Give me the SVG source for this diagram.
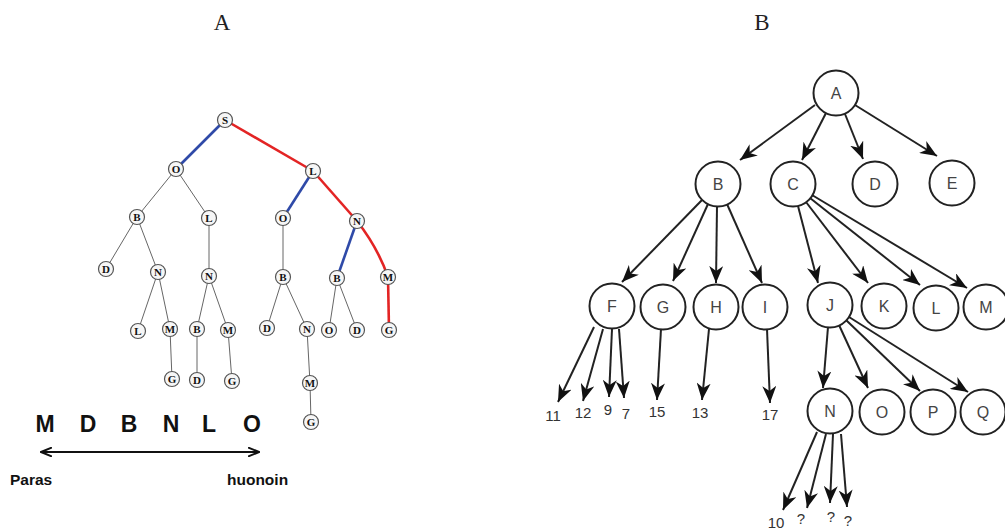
<svg xmlns="http://www.w3.org/2000/svg" width="1005" height="532" viewBox="0 0 1005 532">
<defs>
<style>
.title{font-family:"Liberation Serif",serif;font-size:23px;fill:#222;text-anchor:middle}
.ae{stroke:#666;stroke-width:1;fill:none}
.blue{stroke:#2f4aa8;stroke-width:2.6;fill:none}
.red{stroke:#e32424;stroke-width:2.6;fill:none}
.an circle{fill:#f6f6f6;stroke:#555;stroke-width:1.2}
.an text{font-family:"Liberation Serif",serif;font-weight:bold;font-size:11px;fill:#111;text-anchor:middle}
.big{font-family:"Liberation Sans",sans-serif;font-weight:bold;font-size:23px;fill:#111;text-anchor:middle}
.lbl{font-family:"Liberation Sans",sans-serif;font-weight:bold;font-size:15.5px;fill:#111}
.be{stroke:#222;stroke-width:2;fill:none;marker-end:url(#ah)}
.bn circle{fill:#fff;stroke:#222;stroke-width:2}
.bn text{font-family:"Liberation Sans",sans-serif;font-size:16px;fill:#444;text-anchor:middle}
.num{font-family:"Liberation Sans",sans-serif;font-size:15px;fill:#333;text-anchor:middle}
</style>
<marker id="ah" markerUnits="userSpaceOnUse" markerWidth="18" markerHeight="14" viewBox="0 0 18 14" refX="17" refY="7" orient="auto">
<path d="M0,0 L17,7 L0,14 L5,7 z" fill="#111"/>
</marker>
<marker id="dh" markerUnits="userSpaceOnUse" markerWidth="12" markerHeight="10" viewBox="0 0 12 10" refX="11" refY="5" orient="auto-start-reverse">
<path d="M0,0.5 L11,5 L0,9.5" fill="none" stroke="#111" stroke-width="2"/>
</marker>
</defs>
<rect width="1005" height="532" fill="#fff"/>
<text class="title" x="222" y="30">A</text>
<text class="title" x="762" y="30">B</text>

<g id="edgesA">
<path class="blue" d="M225,120 L176,169"/>
<path class="red" d="M225,120 L313,171"/>
<path class="ae" d="M176,169 L137,217 M176,169 L209,218 M137,217 L106,269 M137,217 L158,272 M209,218 L209,276 M158,272 L138,331 M158,272 L170,329 M170,329 L172,379 M209,276 L197,329 M209,276 L228,330 M197,329 L197,380 M228,330 L232,381"/>
<path class="blue" d="M313,171 L283,218"/>
<path class="red" d="M313,171 L357,221"/>
<path class="ae" d="M283,218 L283,277 M283,277 L267,328 M283,277 L307,329 M307,329 L310,383 M310,383 L311,422"/>
<path class="blue" d="M357,221 L337,278"/>
<path class="red" d="M357,221 Q378,248 388,277"/>
<path class="ae" d="M337,278 L329,330 M337,278 L357,330"/>
<path class="red" d="M388,277 L389,330"/>
</g>
<g id="nodesA" class="an">
<g id="a-S"><circle cx="225" cy="120" r="7.5"/><text x="225" y="124">S</text></g>
<g id="a-O1"><circle cx="176" cy="169" r="7.5"/><text x="176" y="173">O</text></g>
<g id="a-L1"><circle cx="313" cy="171" r="7.5"/><text x="313" y="175">L</text></g>
<g id="a-B1"><circle cx="137" cy="217" r="7.5"/><text x="137" y="221">B</text></g>
<g id="a-L2"><circle cx="209" cy="218" r="7.5"/><text x="209" y="222">L</text></g>
<g id="a-O2"><circle cx="283" cy="218" r="7.5"/><text x="283" y="222">O</text></g>
<g id="a-N1"><circle cx="357" cy="221" r="7.5"/><text x="357" y="225">N</text></g>
<g id="a-D1"><circle cx="106" cy="269" r="7.5"/><text x="106" y="273">D</text></g>
<g id="a-N2"><circle cx="158" cy="272" r="7.5"/><text x="158" y="276">N</text></g>
<g id="a-N3"><circle cx="209" cy="276" r="7.5"/><text x="209" y="280">N</text></g>
<g id="a-B2"><circle cx="283" cy="277" r="7.5"/><text x="283" y="281">B</text></g>
<g id="a-B3"><circle cx="337" cy="278" r="7.5"/><text x="337" y="282">B</text></g>
<g id="a-M1"><circle cx="388" cy="277" r="7.5"/><text x="388" y="281">M</text></g>
<g id="a-L3"><circle cx="138" cy="331" r="7.5"/><text x="138" y="335">L</text></g>
<g id="a-M2"><circle cx="170" cy="329" r="7.5"/><text x="170" y="333">M</text></g>
<g id="a-B4"><circle cx="197" cy="329" r="7.5"/><text x="197" y="333">B</text></g>
<g id="a-M3"><circle cx="228" cy="330" r="7.5"/><text x="228" y="334">M</text></g>
<g id="a-D2"><circle cx="267" cy="328" r="7.5"/><text x="267" y="332">D</text></g>
<g id="a-N4"><circle cx="307" cy="329" r="7.5"/><text x="307" y="333">N</text></g>
<g id="a-O3"><circle cx="329" cy="330" r="7.5"/><text x="329" y="334">O</text></g>
<g id="a-D3"><circle cx="357" cy="330" r="7.5"/><text x="357" y="334">D</text></g>
<g id="a-G1"><circle cx="389" cy="330" r="7.5"/><text x="389" y="334">G</text></g>
<g id="a-G2"><circle cx="172" cy="379" r="7.5"/><text x="172" y="383">G</text></g>
<g id="a-D4"><circle cx="197" cy="380" r="7.5"/><text x="197" y="384">D</text></g>
<g id="a-G3"><circle cx="232" cy="381" r="7.5"/><text x="232" y="385">G</text></g>
<g id="a-M4"><circle cx="310" cy="383" r="7.5"/><text x="310" y="387">M</text></g>
<g id="a-G4"><circle cx="311" cy="422" r="7.5"/><text x="311" y="426">G</text></g>
</g>

<g id="order">
<text class="big" x="45" y="432">M</text>
<text class="big" x="88" y="432">D</text>
<text class="big" x="129" y="432">B</text>
<text class="big" x="171" y="432">N</text>
<text class="big" x="209" y="432">L</text>
<text class="big" x="252" y="432">O</text>
<line x1="41" y1="452" x2="259" y2="452" stroke="#111" stroke-width="2" marker-start="url(#dh)" marker-end="url(#dh)"/>
<text class="lbl" x="10" y="485">Paras</text>
<text class="lbl" x="227" y="485">huonoin</text>
</g>

<g id="edgesB">
<line class="be" x1="815" y1="105" x2="740" y2="160"/>
<line class="be" x1="826" y1="113" x2="802" y2="160"/>
<line class="be" x1="845" y1="114" x2="863" y2="159"/>
<line class="be" x1="855" y1="105" x2="937" y2="156"/>
<line class="be" x1="702" y1="200" x2="622" y2="282"/>
<line class="be" x1="708" y1="204" x2="673" y2="281"/>
<line class="be" x1="717" y1="206" x2="716" y2="283"/>
<line class="be" x1="727" y1="204" x2="762" y2="283"/>
<line class="be" x1="798" y1="206" x2="818" y2="283"/>
<line class="be" x1="806" y1="202" x2="868" y2="283"/>
<line class="be" x1="810" y1="198" x2="920" y2="285"/>
<line class="be" x1="812" y1="195" x2="967" y2="288"/>
<line class="be" x1="828" y1="327" x2="823" y2="388"/>
<line class="be" x1="839" y1="325" x2="868" y2="388"/>
<line class="be" x1="846" y1="320" x2="920" y2="391"/>
<line class="be" x1="849" y1="317" x2="968" y2="392"/>
<line class="be" x1="594" y1="327" x2="558" y2="402"/>
<line class="be" x1="603" y1="329" x2="583" y2="401"/>
<line class="be" x1="612" y1="329" x2="609" y2="397"/>
<line class="be" x1="619" y1="329" x2="624" y2="398"/>
<line class="be" x1="661" y1="329" x2="657" y2="400"/>
<line class="be" x1="709" y1="329" x2="702" y2="400"/>
<line class="be" x1="767" y1="329" x2="770" y2="403"/>
<line class="be" x1="817" y1="432" x2="783" y2="510"/>
<line class="be" x1="826" y1="434" x2="807" y2="508"/>
<line class="be" x1="833" y1="434" x2="830" y2="503"/>
<line class="be" x1="841" y1="434" x2="847" y2="507"/>
</g>
<g id="nodesB" class="bn">
<g id="b-A"><circle cx="836" cy="93" r="22.5"/><text x="836" y="99">A</text></g>
<g id="b-B"><circle cx="718" cy="184" r="22.5"/><text x="718" y="190">B</text></g>
<g id="b-C"><circle cx="793" cy="184" r="22.5"/><text x="793" y="190">C</text></g>
<g id="b-D"><circle cx="875" cy="184" r="22.5"/><text x="875" y="190">D</text></g>
<g id="b-E"><circle cx="952" cy="183" r="22.5"/><text x="952" y="189">E</text></g>
<g id="b-F"><circle cx="612" cy="306" r="22.5"/><text x="612" y="312">F</text></g>
<g id="b-G"><circle cx="663" cy="307" r="22.5"/><text x="663" y="313">G</text></g>
<g id="b-H"><circle cx="716" cy="307" r="22.5"/><text x="716" y="313">H</text></g>
<g id="b-I"><circle cx="765" cy="307" r="22.5"/><text x="765" y="313">I</text></g>
<g id="b-J"><circle cx="830" cy="305" r="22.5"/><text x="830" y="311">J</text></g>
<g id="b-K"><circle cx="884" cy="306" r="22.5"/><text x="884" y="312">K</text></g>
<g id="b-L"><circle cx="936" cy="308" r="22.5"/><text x="936" y="314">L</text></g>
<g id="b-M"><circle cx="986" cy="307" r="22.5"/><text x="986" y="313">M</text></g>
<g id="b-N"><circle cx="830" cy="411" r="22.5"/><text x="830" y="417">N</text></g>
<g id="b-O"><circle cx="882" cy="412" r="22.5"/><text x="882" y="418">O</text></g>
<g id="b-P"><circle cx="933" cy="412" r="22.5"/><text x="933" y="418">P</text></g>
<g id="b-Q"><circle cx="983" cy="412" r="22.5"/><text x="983" y="418">Q</text></g>
</g>
<g id="leaves">
<text class="num" x="553" y="421">11</text>
<text class="num" x="583" y="418">12</text>
<text class="num" x="608" y="415">9</text>
<text class="num" x="626" y="419">7</text>
<text class="num" x="657" y="417">15</text>
<text class="num" x="700" y="418">13</text>
<text class="num" x="770" y="420">17</text>
<text class="num" x="776" y="528">10</text>
<text class="num" x="801" y="524">?</text>
<text class="num" x="831" y="522">?</text>
<text class="num" x="848" y="526">?</text>
</g>
</svg>
